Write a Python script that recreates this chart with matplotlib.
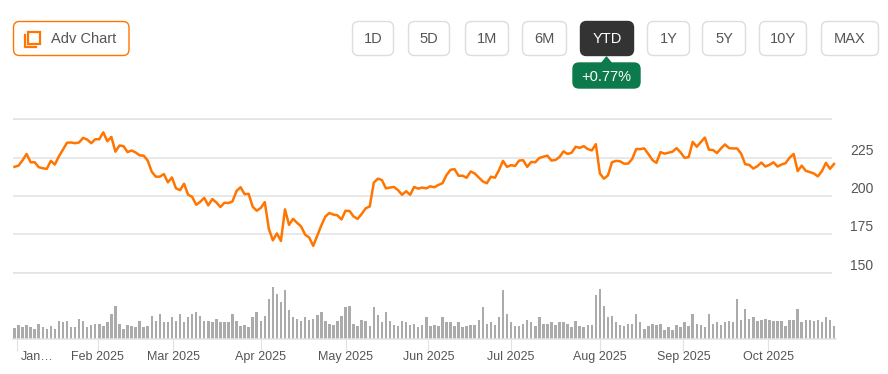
import numpy as np
import matplotlib
matplotlib.use('Agg')
import matplotlib.pyplot as plt
from matplotlib.patches import FancyBboxPatch, Polygon, Rectangle

plt.rcParams['font.family'] = ['Liberation Sans', 'DejaVu Sans']

price = [219.0,219.8,223.3,227.4,222.0,222.0,218.8,218.1,217.7,222.9,
         220.5,225.9,230.2,234.7,234.9,234.4,234.9,237.9,236.8,234.4,
         237.0,237.0,241.5,235.7,238.5,228.9,232.9,232.5,228.6,229.7,
         228.4,226.5,226.3,223.1,215.8,212.6,212.6,214.3,208.9,212.1,
         205.0,203.8,208.0,200.8,199.5,194.3,196.2,198.8,193.9,198.0,
         195.8,192.8,195.6,195.4,196.5,203.3,205.7,201.2,201.4,193.0,
         190.4,192.2,196.0,178.6,171.1,175.6,170.7,191.3,181.2,185.1,
         182.5,180.1,174.8,172.9,167.5,174.1,180.8,186.6,188.9,187.9,
         187.4,184.7,190.4,190.2,186.6,185.1,188.3,192.0,193.2,208.7,
         211.3,210.4,205.0,205.5,205.9,203.8,200.8,203.1,200.8,205.9,
         204.8,205.5,205.0,206.3,205.7,207.2,208.3,213.6,217.1,217.5,
         213.2,213.2,211.9,216.0,214.7,212.1,209.5,208.3,212.6,211.9,
         216.8,222.9,219.0,220.1,219.6,223.1,223.3,219.0,222.2,222.0,
         224.8,225.6,226.3,223.1,223.5,225.4,229.1,227.4,228.2,232.1,
         231.4,232.5,230.6,229.7,233.8,214.7,211.3,213.4,222.0,222.9,
         222.6,221.1,221.1,224.1,230.6,230.6,231.0,227.4,223.5,221.6,
         228.6,227.6,228.2,228.9,231.2,228.4,224.8,225.4,235.3,232.1,
         235.1,238.1,230.2,230.0,228.0,231.0,233.6,231.2,231.0,231.0,
         227.6,220.7,220.3,217.9,219.4,221.8,219.2,220.3,222.0,219.2,
         220.5,221.4,225.0,227.4,216.2,219.8,216.4,215.6,214.7,212.8,
         216.2,221.6,217.7,220.9]

volume = [31,41,34,41,34,30,45,34,30,38,30,53,50,53,34,34,60,53,34,41,
          45,45,38,49,75,97,45,30,41,38,34,53,34,38,68,53,75,49,49,64,
          53,75,49,64,75,79,68,53,53,49,60,49,49,49,75,53,38,41,34,64,
          79,53,68,120,154,135,109,146,86,64,60,
          53,64,56,60,71,79,53,45,41,53,68,94,97,45,38,56,53,38,94,71,
          49,79,53,41,38,53,49,41,45,34,41,64,38,41,38,64,49,49,38,49,
          34,38,41,41,56,94,45,49,41,64,146,75,49,38,38,45,56,49,38,64,
          45,45,49,41,49,49,45,34,53,38,34,41,
          41,131,150,97,64,68,49,41,38,45,45,75,49,30,38,45,41,45,26,34,
          26,41,34,49,38,75,45,41,34,75,45,49,41,49,53,49,120,56,90,60,
          64,53,56,60,56,53,53,53,38,56,56,90,49,56,56,53,56,49,64,56,38]

month_idx = [0.7, 20.6, 39.3, 61, 82.1, 102.5, 122.9, 145, 165.7, 186.7]
month_labels = ['', 'Feb 2025', 'Mar 2025', 'Apr 2025', 'May 2025', 'Jun 2025',
                'Jul 2025', 'Aug 2025', 'Sep 2025', 'Oct 2025']
price_ticks = [150, 175, 200, 225, 250]
price_labels = ['150', '175', '200', '225', '']
ranges = ['1D', '5D', '1M', '6M', 'YTD', '1Y', '5Y', '10Y', 'MAX']
range_left = [352, 408, 465, 522, 580, 647, 702, 759, 821]
range_right = [393, 449, 508, 566, 633, 689, 745, 806, 878]

W, H = 888, 374
ORANGE = '#ff7500'
GRID = '#e2e2e2'
TEXT = '#555555'

fig = plt.figure(figsize=(W / 100, H / 100), dpi=100)
x = np.arange(len(price))
xlim = (-0.37, 202.5)

# price panel
ax = fig.add_axes([13 / W, 1 - 272.7 / H, 819 / W, (272.7 - 119.3) / H])
ax.plot(x, price, color=ORANGE, lw=1.8, clip_on=False, solid_joinstyle='round')
ax.set_xlim(*xlim)
ax.set_ylim(150, 250)
ax.set_xticks([])
ax.yaxis.tick_right()
ax.set_yticks(price_ticks)
ax.set_yticklabels(price_labels, color=TEXT, fontsize=10, va='bottom')
ax.tick_params(axis='y', length=0, pad=13)
ax.grid(axis='y', color=GRID, lw=1.1)
ax.set_axisbelow(True)
for s in ax.spines.values():
    s.set_visible(False)
ax.hlines([150, 250], *xlim, color=GRID, lw=1.1, clip_on=False, zorder=0)

# volume panel
ax2 = fig.add_axes([13 / W, 1 - 338.7 / H, 823 / W, 58.7 / H])
ax2.bar(x, volume, width=0.62, color='#ababab', clip_on=False)
ax2.set_xlim(xlim[0], xlim[0] + (xlim[1] - xlim[0]) * 823 / 819)
ax2.set_ylim(0, 176)
ax2.set_yticks([])
ax2.set_xticks(month_idx)
ax2.set_xticklabels(month_labels, color=TEXT, fontsize=9)
ax2.tick_params(axis='x', length=8.5, width=0.8, color=GRID, pad=0)
for s in ['top', 'left', 'right']:
    ax2.spines[s].set_visible(False)
ax2.spines['bottom'].set_color(GRID)
ax2.spines['bottom'].set_linewidth(1.1)

# buttons on top, in pixel coordinates
ui = fig.add_axes([0, 0, 1, 1], zorder=5)
ui.set_xlim(0, W)
ui.set_ylim(H, 0)
ui.axis('off')
ui.patch.set_alpha(0)


def button(x0, x1, y0, y1, face, edge):
    ui.add_patch(FancyBboxPatch((x0 + 6, y0 + 6), x1 - x0 - 12, y1 - y0 - 12,
                                boxstyle='round,pad=6,rounding_size=6',
                                fc=face, ec=edge, lw=1))


button(13.5, 129, 21.5, 55.5, 'white', ORANGE)
ui.add_patch(Rectangle((28, 31.5), 11.5, 12, fc='white', ec=ORANGE, lw=1.6))
ui.plot([24.5, 24.5, 36], [35, 47, 47], color=ORANGE, lw=1.6)
ui.text(51, 38.5, 'Adv Chart', fontsize=10.5, color=TEXT, va='center', ha='left')

for name, l, r in zip(ranges, range_left, range_right):
    active = name == 'YTD'
    button(l + 0.5, r + 0.5, 21.5, 55.5, '#333333' if active else 'white',
           '#333333' if active else '#dddddd')
    ui.text((l + r) / 2 + 0.5, 38.5, name, fontsize=10.5,
            color='white' if active else TEXT, va='center', ha='center')

button(573, 640, 63, 88, '#0c7a4a', '#0c7a4a')
ui.add_patch(Polygon([[600, 64], [606.5, 56], [613, 64]], fc='#0c7a4a', ec='none'))
ui.text(606.5, 76.5, '+0.77%', fontsize=10.5, color='white', va='center', ha='center')

ui.text(37.5, 357, 'Jan\u2026', fontsize=9, color=TEXT, va='center', ha='center')

fig.savefig('out.png', dpi=100)
